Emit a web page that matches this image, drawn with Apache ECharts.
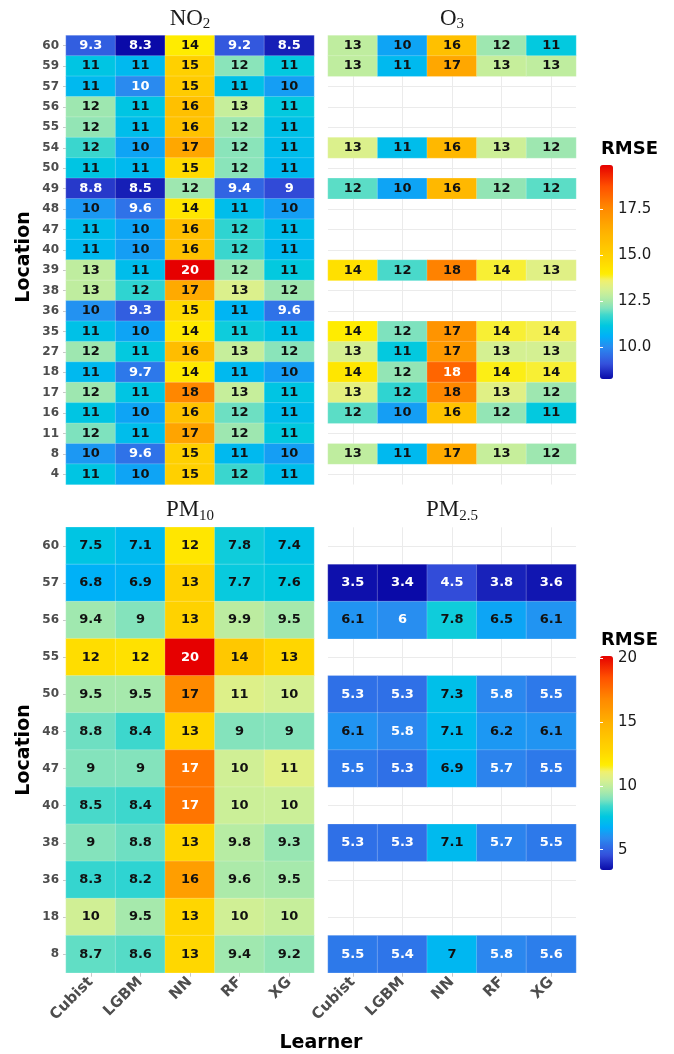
<!DOCTYPE html>
<html>
<head>
<meta charset="utf-8">
<script src="https://cdn.jsdelivr.net/npm/echarts@6/dist/echarts.min.js"></script>
<style>
  html, body { margin: 0; padding: 0; background: #fff; }
  #chart { width: 674px; height: 1054px; }
</style>
</head>
<body>
<div id="chart"></div>
<script>
// ---------------- DATA ----------------
const learners = ['Cubist', 'LGBM', 'NN', 'RF', 'XG'];

const topLocations = ['60','59','57','56','55','54','50','49','48','47','40','39','38','36','35','27','18','17','16','11','8','4'];
const no2Values = [
  [9.3, 8.26, 14.0, 9.2, 8.5],
  [11.1, 10.8, 15.0, 12.2, 11.2],
  [10.8, 9.97, 15.2, 11.0, 10.3],
  [12.4, 11.1, 15.7, 12.9, 11.2],
  [12.3, 10.9, 15.6, 12.4, 11.0],
  [11.7, 10.4, 16.6, 12.2, 10.9],
  [11.1, 10.8, 14.6, 12.2, 10.8],
  [8.8, 8.5, 12.4, 9.4, 9.0],
  [10.2, 9.6, 14.2, 10.9, 10.3],
  [10.9, 10.4, 15.7, 11.6, 10.9],
  [10.8, 10.3, 15.6, 11.7, 10.8],
  [12.8, 10.9, 19.9, 12.4, 11.2],
  [12.8, 11.6, 16.5, 13.2, 12.4],
  [10.1, 9.3, 14.6, 10.7, 9.6],
  [11.0, 10.4, 14.1, 11.3, 11.0],
  [12.4, 11.2, 15.8, 12.9, 12.2],
  [10.8, 9.7, 14.1, 10.8, 10.3],
  [12.4, 11.1, 17.6, 12.9, 11.1],
  [11.1, 10.4, 15.6, 12.0, 10.9],
  [12.1, 10.9, 16.7, 12.4, 11.2],
  [10.2, 9.6, 15.0, 10.8, 10.3],
  [11.1, 10.4, 15.0, 11.7, 10.9]
];

const o3Locations = ['60','59','54','49','39','35','27','18','17','16','8'];
const o3Values = [
  [12.8, 10.4, 15.7, 12.4, 11.2],
  [12.8, 10.8, 16.6, 12.9, 12.8],
  [13.2, 10.9, 16.0, 13.0, 12.4],
  [11.9, 10.4, 16.0, 12.3, 11.9],
  [14.4, 11.8, 17.7, 13.8, 13.3],
  [14.0, 12.1, 17.2, 13.8, 13.7],
  [13.1, 11.2, 17.0, 13.1, 13.1],
  [14.2, 12.3, 18.3, 13.9, 13.8],
  [13.4, 11.6, 17.6, 13.3, 12.4],
  [11.9, 10.3, 15.6, 12.3, 11.2],
  [12.8, 10.8, 16.5, 12.9, 12.4]
];

const pmLocations = ['60','57','56','55','50','48','47','40','38','36','18','8'];
const pm10Values = [
  [7.5, 7.1, 12.0, 7.8, 7.4],
  [6.8, 6.9, 13.0, 7.7, 7.6],
  [9.4, 9.0, 13.0, 9.9, 9.5],
  [12.4, 12.2, 20.2, 13.6, 12.8],
  [9.5, 9.5, 16.7, 10.6, 10.4],
  [8.8, 8.4, 12.7, 9.0, 9.0],
  [9.0, 9.0, 17.4, 10.3, 10.7],
  [8.5, 8.4, 17.4, 10.2, 10.2],
  [9.0, 8.8, 12.8, 9.8, 9.3],
  [8.3, 8.2, 15.8, 9.6, 9.5],
  [10.3, 9.5, 12.8, 10.3, 10.1],
  [8.7, 8.6, 12.7, 9.4, 9.2]
];

const pm25Locations = ['57','56','50','48','47','38','8'];
const pm25Values = [
  [3.5, 3.4, 4.5, 3.8, 3.6],
  [6.1, 5.96, 7.8, 6.5, 6.1],
  [5.3, 5.3, 7.3, 5.8, 5.5],
  [6.1, 5.8, 7.1, 6.2, 6.1],
  [5.5, 5.3, 6.9, 5.7, 5.5],
  [5.3, 5.3, 7.1, 5.7, 5.5],
  [5.5, 5.4, 7.0, 5.8, 5.6]
];

const topTicks = [10, 12.5, 15, 17.5];
const bottomTicks = [5, 10, 15, 20];

// ---------------- STYLE HELPERS ----------------
const FONT = 'DejaVu Sans';
const SERIF = 'Liberation Serif';
const paletteStops = [
  [0.00, '#0a0aa8'], [0.07, '#3550dc'], [0.15, '#2a8cf0'], [0.20, '#00b0f8'],
  [0.25, '#00c8e0'], [0.30, '#40d8cc'], [0.33, '#80e2be'], [0.37, '#aeeaa8'],
  [0.42, '#d8f090'], [0.46, '#f0f070'], [0.49, '#ffee00'], [0.55, '#ffd800'],
  [0.68, '#ffb400'], [0.80, '#ff8800'], [0.90, '#ff5000'], [1.00, '#e60000']
];
function hexToRgb(h) { return [1,3,5].map(i => parseInt(h.substr(i,2),16)); }
function samplePalette(n) {
  const out = [];
  for (let k = 0; k < n; k++) {
    const t = k / (n - 1);
    let i = 0;
    while (i < paletteStops.length - 2 && t > paletteStops[i+1][0]) i++;
    const [t0, c0] = paletteStops[i], [t1, c1] = paletteStops[i+1];
    const f = Math.min(1, Math.max(0, (t - t0) / (t1 - t0)));
    const a = hexToRgb(c0), b = hexToRgb(c1);
    const c = a.map((v, j) => Math.round(v + (b[j] - v) * f));
    out.push('rgb(' + c.join(',') + ')');
  }
  return out;
}
const palette = samplePalette(121);

function flat(arr) { return arr.reduce((a, r) => a.concat(r), []); }
const topAll = flat(no2Values).concat(flat(o3Values));
const botAll = flat(pm10Values).concat(flat(pm25Values));
const topMin = Math.min(...topAll), topMax = Math.max(...topAll);
const botMin = Math.min(...botAll), botMax = Math.max(...botAll);

function fmt(v) { return String(Number(v.toPrecision(2))); }

function buildData(locs, vals, vmin, vmax) {
  const out = [];
  locs.forEach((loc, r) => {
    learners.forEach((lr, c) => {
      const v = vals[r][c];
      const t = (v - vmin) / (vmax - vmin);
      const col = (t < 0.155 || t > 0.82) ? '#ffffff' : '#111111';
      out.push({ value: [lr, loc, v], label: { color: col } });
    });
  });
  return out;
}

const gridLine = { show: true, alignWithLabel: true, lineStyle: { color: '#ebebeb', width: 1 } };
const titleRich = {
  m: { fontFamily: SERIF, fontSize: 23, color: '#1a1a1a', lineHeight: 26 },
  s: { fontFamily: SERIF, fontSize: 15, color: '#1a1a1a', lineHeight: 15, verticalAlign: 'bottom' }
};

function titleAxis(gridIndex, name) {
  return {
    gridIndex, type: 'category', data: learners, position: 'top',
    axisLine: { show: false }, axisTick: { show: false }, axisLabel: { show: false },
    splitLine: gridLine,
    name, nameLocation: 'middle', nameGap: 4,
    nameTextStyle: { rich: titleRich }
  };
}
function bottomAxis(gridIndex) {
  return {
    gridIndex, type: 'category', data: learners, position: 'bottom',
    axisLine: { show: false },
    axisTick: { show: true, alignWithLabel: true, length: 4, lineStyle: { color: '#c8c8c8' } },
    axisLabel: { show: true, interval: 0, rotate: 45, margin: 7, fontFamily: FONT, fontSize: 15, fontWeight: 'bold', color: '#4d4d4d' },
    splitLine: gridLine
  };
}
function nameOnlyAxis(gridIndex, name) {
  return {
    gridIndex, type: 'category', data: learners, position: 'top',
    axisLine: { show: false }, axisTick: { show: false }, axisLabel: { show: false },
    splitLine: { show: false },
    name, nameLocation: 'middle', nameGap: 4,
    nameTextStyle: { rich: titleRich }
  };
}
function catYAxis(gridIndex, data, showLabels) {
  return {
    gridIndex, type: 'category', data, inverse: true,
    axisLine: { show: false },
    axisTick: { show: showLabels, alignWithLabel: true, length: 3, lineStyle: { color: '#c8c8c8' } },
    axisLabel: { show: showLabels, interval: 0, margin: 7, fontFamily: FONT, fontSize: 12, fontWeight: 'bold', color: '#4d4d4d' },
    splitLine: gridLine
  };
}
function cbAxis(gridIndex, vmin, vmax, ticks, labels, formatter) {
  return {
    gridIndex, type: 'value', min: vmin, max: vmax, position: labels ? 'right' : 'left', z: 10,
    axisLine: { show: false },
    axisTick: { show: true, inside: true, length: 3, customValues: ticks, lineStyle: { color: '#ffffff', width: 1 } },
    axisLabel: { show: labels, customValues: ticks, formatter, margin: 5, fontFamily: FONT, fontSize: 15, color: '#1a1a1a' },
    splitLine: { show: false }
  };
}
function heat(xi, yi, data) {
  return {
    type: 'heatmap', xAxisIndex: xi, yAxisIndex: yi, data, z: 2,
    itemStyle: { borderColor: 'rgba(255,255,255,0.35)', borderWidth: 0.6 },
    label: { show: true, formatter: p => fmt(p.value[2]), fontFamily: FONT, fontSize: 13, fontWeight: 'bold' },
    emphasis: { disabled: true }
  };
}

const gridBase = { containLabel: false, outerBoundsMode: 'none', show: false };
const option = {
  animation: false,
  backgroundColor: '#ffffff',
  grid: [
    Object.assign({ left: 66, top: 35.5, width: 248, height: 449 }, gridBase),
    Object.assign({ left: 328, top: 35.5, width: 248, height: 449 }, gridBase),
    Object.assign({ left: 66, top: 527.3, width: 248, height: 445.4 }, gridBase),
    Object.assign({ left: 328, top: 527.3, width: 248, height: 445.4 }, gridBase),
    Object.assign({ left: 600, top: 165, width: 13, height: 214 }, gridBase),
    Object.assign({ left: 600, top: 656, width: 13, height: 214 }, gridBase)
  ],
  xAxis: [
    titleAxis(0, '{m|NO}{s|2}'),
    titleAxis(1, '{m|O}{s|3}'),
    bottomAxis(2),
    bottomAxis(3),
    nameOnlyAxis(2, '{m|PM}{s|10}'),
    nameOnlyAxis(3, '{m|PM}{s|2.5}'),
    { gridIndex: 4, type: 'value', show: false },
    { gridIndex: 5, type: 'value', show: false }
  ],
  yAxis: [
    catYAxis(0, topLocations, true),
    catYAxis(1, topLocations, false),
    catYAxis(2, pmLocations, true),
    catYAxis(3, pmLocations, false),
    cbAxis(4, topMin, topMax, topTicks, true, v => v.toFixed(1)),
    cbAxis(5, botMin, botMax, bottomTicks, true, v => String(v)),
    cbAxis(4, topMin, topMax, topTicks, false),
    cbAxis(5, botMin, botMax, bottomTicks, false)
  ],
  visualMap: [
    { type: 'continuous', seriesIndex: [0, 1], dimension: 2, min: topMin, max: topMax,
      left: 600, top: 165, itemWidth: 13, itemHeight: 214, padding: 0, calculable: false,
      hoverLink: false, text: null, showLabel: false, z: 3, inRange: { color: palette } },
    { type: 'continuous', seriesIndex: [2, 3], dimension: 2, min: botMin, max: botMax,
      left: 600, top: 656, itemWidth: 13, itemHeight: 214, padding: 0, calculable: false,
      hoverLink: false, text: null, showLabel: false, z: 3, inRange: { color: palette } }
  ],
  series: [
    heat(0, 0, buildData(topLocations, no2Values, topMin, topMax)),
    heat(1, 1, buildData(o3Locations, o3Values, topMin, topMax)),
    heat(2, 2, buildData(pmLocations, pm10Values, botMin, botMax)),
    heat(3, 3, buildData(pm25Locations, pm25Values, botMin, botMax))
  ],
  graphic: [
    { type: 'text', x: 24, y: 257, rotation: Math.PI / 2,
      style: { text: 'Location', fontFamily: FONT, fontSize: 19, fontWeight: 'bold', fill: '#000', textAlign: 'center', textVerticalAlign: 'middle' } },
    { type: 'text', x: 24, y: 750, rotation: Math.PI / 2,
      style: { text: 'Location', fontFamily: FONT, fontSize: 19, fontWeight: 'bold', fill: '#000', textAlign: 'center', textVerticalAlign: 'middle' } },
    { type: 'text', x: 321, y: 1043,
      style: { text: 'Learner', fontFamily: FONT, fontSize: 19, fontWeight: 'bold', fill: '#000', textAlign: 'center', textVerticalAlign: 'middle' } },
    { type: 'text', x: 601, y: 149,
      style: { text: 'RMSE', fontFamily: FONT, fontSize: 18, fontWeight: 'bold', fill: '#000', textAlign: 'left', textVerticalAlign: 'middle' } },
    { type: 'text', x: 601, y: 640,
      style: { text: 'RMSE', fontFamily: FONT, fontSize: 18, fontWeight: 'bold', fill: '#000', textAlign: 'left', textVerticalAlign: 'middle' } }
  ]
};

const chart = echarts.init(document.getElementById('chart'), null, { renderer: 'canvas' });
chart.setOption(option);
</script>
</body>
</html>
